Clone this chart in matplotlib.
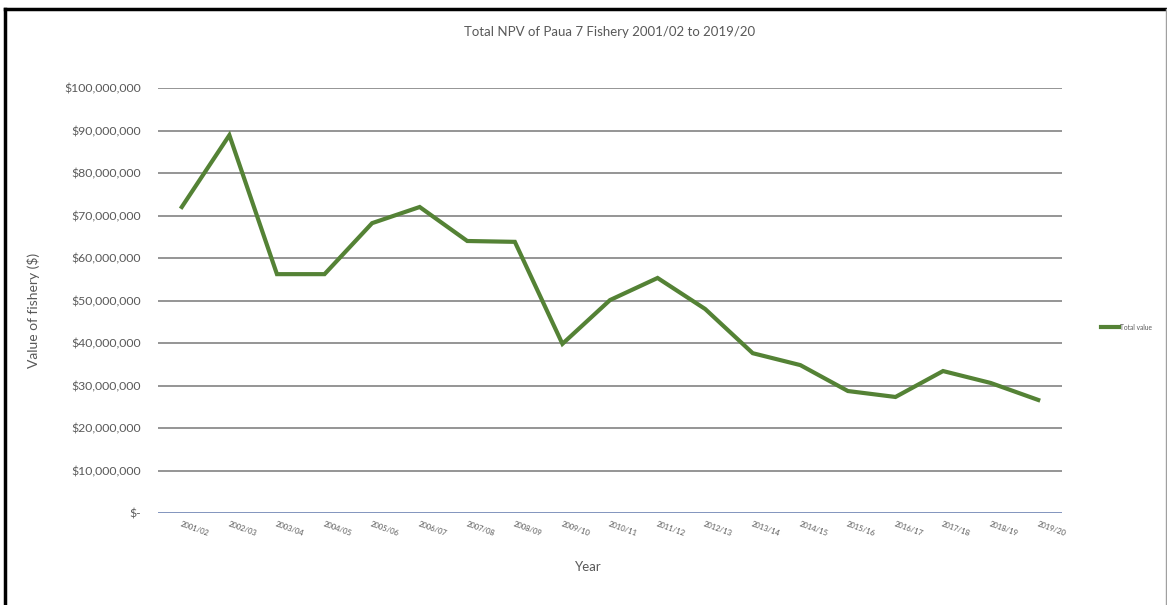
import matplotlib.pyplot as plt
from matplotlib.lines import Line2D
from matplotlib.ticker import FuncFormatter

plt.rcParams['font.family'] = ['Lato', 'DejaVu Sans']

years = ['2001/02', '2002/03', '2003/04', '2004/05', '2005/06', '2006/07',
         '2007/08', '2008/09', '2009/10', '2010/11', '2011/12', '2012/13',
         '2013/14', '2014/15', '2015/16', '2016/17', '2017/18', '2018/19',
         '2019/20']
# NPV in dollars
total_value = [72.0e6, 88.9e6, 56.2e6, 56.2e6, 68.2e6, 72.0e6,
               64.0e6, 63.8e6, 39.8e6, 50.1e6, 55.3e6, 48.0e6,
               37.6e6, 34.8e6, 28.7e6, 27.3e6, 33.4e6, 30.6e6,
               26.6e6]

text_grey = '#595959'

fig = plt.figure(figsize=(11.67, 6.05), dpi=100)
ax = fig.add_axes([158 / 1167, 1 - 513 / 605, (1062 - 158) / 1167, (513 - 88) / 605])

x = range(len(years))
ax.plot(x, total_value, color='#548235', linewidth=3, solid_joinstyle='miter',
        label='Total value', zorder=3)

ax.set_xlim(-0.5, len(years) - 0.5)
ax.set_ylim(0, 100e6)
ax.set_yticks([i * 10e6 for i in range(11)])


def dollars(v, pos):
    if v == 0:
        return '$-'
    return f'${v:,.0f}'


ax.yaxis.set_major_formatter(FuncFormatter(dollars))
ax.grid(axis='y', color='#8c8c8c', linewidth=1.3)
ax.set_axisbelow(True)
for side in ['top', 'right', 'left', 'bottom']:
    ax.spines[side].set_visible(False)
ax.axhline(0, color='#8497c4', linewidth=1.3, zorder=2)

ax.tick_params(axis='y', length=0, pad=12, labelsize=8.8, labelcolor=text_grey)
ax.set_xticks(list(x))
ax.set_xticklabels(years)
ax.tick_params(axis='x', length=0, pad=5, labelsize=5.5, labelcolor=text_grey)
for lbl in ax.get_xticklabels():
    lbl.set_rotation(-20)
    lbl.set_rotation_mode('anchor')
    lbl.set_ha('left')
    lbl.set_va('top')

fig.text(610 / 1167, 1 - 32 / 605, 'Total NPV of Paua 7 Fishery 2001/02 to 2019/20',
         ha='center', va='center', fontsize=9.5, color=text_grey)
fig.text(33 / 1167, 1 - 310 / 605, 'Value of fishery ($)', rotation=90,
         ha='center', va='center', fontsize=10, color=text_grey)
fig.text(588 / 1167, 1 - 567 / 605, 'Year', ha='center', va='center',
         fontsize=9.5, color=text_grey)

leg = ax.legend(loc='center left', bbox_to_anchor=(1098 / 1167, 1 - 327 / 605),
                bbox_transform=fig.transFigure, frameon=False, fontsize=4.8,
                handlelength=2.6, handletextpad=0.2, borderpad=0)
for t in leg.get_texts():
    t.set_color(text_grey)

# frame round the chart
fig.add_artist(Line2D([5 / 1167, 5 / 1167], [0, 1 - 9 / 605], color='black',
                      linewidth=2.5, transform=fig.transFigure))
fig.add_artist(Line2D([5 / 1167, 1166 / 1167], [1 - 9 / 605, 1 - 9 / 605],
                      color='black', linewidth=2.5, transform=fig.transFigure))
fig.add_artist(Line2D([1165.5 / 1167, 1165.5 / 1167], [0, 1 - 9 / 605],
                      color='#a0a0a0', linewidth=1, transform=fig.transFigure))

fig.savefig('out.png', dpi=100)
